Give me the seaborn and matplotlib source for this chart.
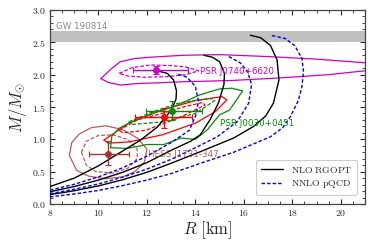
import numpy as np
import pandas as pd
import matplotlib
matplotlib.use("Agg")
import matplotlib.pyplot as plt
from matplotlib.ticker import MultipleLocator
from matplotlib.lines import Line2D
import seaborn as sns

sns.set_style("ticks")
plt.rcParams["mathtext.fontset"] = "cm"
plt.rcParams["font.family"] = ["DejaVu Sans"]

# --- mass-radius curves (R in km, M in Msun) ---
rgopt_1_R = [8.0, 9.0, 10.0, 11.0, 11.74, 12.43, 13.0, 13.2, 13.22, 13.1, 12.84, 12.43]
rgopt_1_M = [0.27, 0.40, 0.59, 0.82, 0.99, 1.19, 1.45, 1.62, 1.75, 1.92, 2.02, 2.06]
rgopt_2_R = [8.0, 9.0, 10.0, 11.0, 12.0, 13.0, 13.8, 14.2, 14.6, 14.95, 15.18, 15.2, 15.0, 14.7, 14.35]
rgopt_2_M = [0.19, 0.27, 0.37, 0.49, 0.64, 0.83, 0.97, 1.07, 1.3, 1.56, 1.85, 2.02, 2.2, 2.27, 2.30]
rgopt_3_R = [8.0, 9.0, 10.0, 11.0, 12.0, 13.0, 14.21, 15.58, 16.4, 16.9, 17.22, 17.45, 17.37, 17.1, 16.7, 16.27]
rgopt_3_M = [0.145, 0.205, 0.28, 0.375, 0.49, 0.63, 0.81, 1.02, 1.2, 1.36, 1.56, 1.92, 2.23, 2.45, 2.57, 2.61]

pqcd_1_R = [8.0, 9.0, 10.0, 11.0, 12.0, 13.0, 13.75, 14.05, 14.12, 14.0, 13.65, 13.2]
pqcd_1_M = [0.215, 0.305, 0.42, 0.56, 0.74, 0.95, 1.14, 1.4, 1.6, 1.82, 1.96, 2.02]
pqcd_2_R = [8.0, 9.0, 10.0, 11.0, 12.0, 13.0, 14.0, 14.9, 15.72, 16.2, 16.32, 16.15, 15.86, 15.38]
pqcd_2_M = [0.16, 0.228, 0.31, 0.415, 0.54, 0.69, 0.87, 1.04, 1.27, 1.56, 1.85, 2.05, 2.18, 2.28]
pqcd_3_R = [8.0, 9.0, 10.0, 11.0, 12.0, 13.0, 14.21, 15.58, 17.1, 17.6, 17.92, 18.25, 18.4, 18.46, 18.4, 18.1, 17.7, 17.1]
pqcd_3_M = [0.11, 0.155, 0.21, 0.285, 0.37, 0.47, 0.63, 0.80, 1.04, 1.18, 1.35, 1.6, 1.82, 2.05, 2.25, 2.45, 2.56, 2.61]

# --- observational contours ---
j0740_out_R = [10.1, 10.5, 10.9, 11.5, 12.16, 13.5, 15.0, 17.0, 19.0, 21.5, 21.5, 19.5, 17.5, 15.5, 13.5, 12.84, 11.5, 10.9, 10.4, 10.1]
j0740_out_M = [1.94, 2.08, 2.2, 2.25, 2.27, 2.3, 2.31, 2.28, 2.24, 2.17, 2.08, 2.0, 1.95, 1.91, 1.89, 1.88, 1.86, 1.84, 1.88, 1.94]
j0740_in_R = [10.85, 11.4, 12.16, 13.0, 13.6, 14.14, 13.6, 12.84, 11.9, 11.2, 10.85]
j0740_in_M = [2.02, 2.11, 2.15, 2.14, 2.12, 2.06, 2.0, 1.97, 1.96, 1.98, 2.02]

riley_out_R = [10.23, 11.26, 12.6, 14.0, 15.1, 15.3, 14.83, 14.0, 12.64, 11.26, 10.4, 10.23]
riley_out_M = [0.99, 1.25, 1.45, 1.6, 1.66, 1.61, 1.43, 1.25, 1.07, 0.96, 0.94, 0.99]
riley_in_R = [10.85, 11.6, 12.6, 13.5, 14.3, 14.4, 13.3, 11.95, 11.0, 10.85]
riley_in_M = [1.14, 1.3, 1.4, 1.5, 1.57, 1.53, 1.33, 1.14, 1.1, 1.14]

miller_out_R = [10.5, 10.55, 10.85, 11.3, 12.2, 13.2, 14.2, 15.0, 15.5, 15.95, 15.7, 15.4, 15.0, 14.5, 14.0, 13.4, 12.7, 12.0, 11.2, 10.5]
miller_out_M = [0.87, 1.05, 1.17, 1.26, 1.4, 1.52, 1.69, 1.78, 1.79, 1.75, 1.61, 1.45, 1.38, 1.15, 1.0, 1.02, 0.92, 0.92, 0.86, 0.87]
miller_in_R = [11.25, 12.2, 13.3, 14.0, 14.7, 14.8, 14.0, 12.64, 11.4, 11.25]
miller_in_M = [1.27, 1.42, 1.56, 1.6, 1.63, 1.6, 1.40, 1.27, 1.23, 1.27]

hess_out_R = [8.8, 8.9, 9.2, 9.7, 10.3, 11.0, 11.6, 12.0, 11.9, 11.5, 11.0, 10.3, 9.6, 9.1, 8.8]
hess_out_M = [0.75, 0.95, 1.08, 1.18, 1.21, 1.15, 1.02, 0.85, 0.65, 0.5, 0.42, 0.39, 0.43, 0.52, 0.75]
hess_in_R = [9.3, 9.5, 10.0, 10.6, 11.2, 11.6, 11.6, 11.2, 10.6, 9.9, 9.5, 9.3]
hess_in_M = [0.8, 0.97, 1.06, 1.07, 1.0, 0.85, 0.7, 0.55, 0.48, 0.5, 0.6, 0.8]

# --- measurements: R, -dR, +dR, M, -dM, +dM ---
j0740_pt = [12.39, 0.98, 1.30, 2.072, 0.066, 0.067]
riley_pt = [12.71, 1.19, 1.14, 1.34, 0.16, 0.15]
miller_pt = [13.02, 1.06, 1.24, 1.44, 0.14, 0.15]
hess_pt = [10.4, 0.78, 0.86, 0.77, 0.17, 0.20]

gw_band = [2.50, 2.67]

MAGENTA = "#cc00cc"
GREEN = "#0a8a0a"
RED = "#ff0000"
BROWN = "#a83232"

curves = pd.concat([
    pd.DataFrame({"R": r, "M": m, "model": mod, "curve": name})
    for r, m, mod, name in [
        (rgopt_1_R, rgopt_1_M, "NLO RGOPT", "r1"),
        (rgopt_2_R, rgopt_2_M, "NLO RGOPT", "r2"),
        (rgopt_3_R, rgopt_3_M, "NLO RGOPT", "r3"),
        (pqcd_1_R, pqcd_1_M, "NNLO pQCD", "p1"),
        (pqcd_2_R, pqcd_2_M, "NNLO pQCD", "p2"),
        (pqcd_3_R, pqcd_3_M, "NNLO pQCD", "p3"),
    ]
])

fig = plt.figure(figsize=(3.74, 2.49), dpi=100)
ax = fig.add_axes([50 / 374, 1 - 204 / 249, 315 / 374, 194 / 249])

ax.axhspan(gw_band[0], gw_band[1], color="#c0c0c0", lw=0, zorder=1)
ax.text(8.25, 2.75, "GW 190814", color="#8a8a8a", fontsize=6.3, va="center")

def contour(r, m, color, ls, alpha=1.0):
    sns.lineplot(x=r, y=m, ax=ax, sort=False, estimator=None, color=color,
                 linestyle=ls, lw=0.9, alpha=alpha, legend=False, zorder=2)

contour(j0740_out_R, j0740_out_M, MAGENTA, "-")
contour(j0740_in_R, j0740_in_M, MAGENTA, (0, (3, 1.5)))
contour(riley_out_R, riley_out_M, RED, "-")
contour(riley_in_R, riley_in_M, RED, (0, (3, 1.5)))
contour(miller_out_R, miller_out_M, GREEN, "-")
contour(miller_in_R, miller_in_M, GREEN, (0, (3, 1.5)))
contour(hess_out_R, hess_out_M, BROWN, "-", 0.8)
contour(hess_in_R, hess_in_M, BROWN, (0, (3, 1.5)), 0.8)

sns.lineplot(data=curves, x="R", y="M", hue="model", style="model", units="curve",
             estimator=None, sort=False, ax=ax, lw=1.0,
             palette={"NLO RGOPT": "black", "NNLO pQCD": "#0000ff"},
             dashes={"NLO RGOPT": "", "NNLO pQCD": (2.5, 1.5)},
             legend=False, zorder=3)

for pt, c in [(j0740_pt, MAGENTA), (riley_pt, RED), (miller_pt, GREEN), (hess_pt, BROWN)]:
    ax.errorbar(pt[0], pt[3], xerr=[[pt[1]], [pt[2]]], yerr=[[pt[4]], [pt[5]]],
                fmt="o", color=c, ms=4, lw=1.0, capsize=2, capthick=0.8, zorder=4)

ax.text(14.2, 2.05, "PSR J0740+6620", color=MAGENTA, fontsize=6.3, va="center")
ax.text(15.0, 1.25, "PSR J0030+0451", color=GREEN, fontsize=6.3, va="center")
ax.text(12.05, 0.76, "HESS J1731-347", color=BROWN, alpha=0.8, fontsize=6.3, va="center")

handles = [Line2D([], [], color="black", lw=1.0),
           Line2D([], [], color="#0000ff", lw=1.0, ls=(0, (2.5, 1.5)))]
leg = ax.legend(handles, [r"$\mathrm{NLO\ RGOPT}$", r"$\mathrm{NNLO\ pQCD}$"],
                loc="lower right", fontsize=7, frameon=True, framealpha=1,
                handlelength=2.3, borderpad=0.5, labelspacing=0.4,
                bbox_to_anchor=(0.99, 0.02))
leg.get_frame().set_edgecolor("#cccccc")
leg.get_frame().set_linewidth(0.8)

ax.set_xlim(8, 21)
ax.set_ylim(0, 3)
ax.xaxis.set_major_locator(MultipleLocator(2))
ax.xaxis.set_minor_locator(MultipleLocator(0.5))
ax.yaxis.set_major_locator(MultipleLocator(0.5))
ax.yaxis.set_minor_locator(MultipleLocator(0.1))
ax.set_xticks(np.arange(8, 21, 2))
ax.set_xticklabels([f"${v}$" for v in range(8, 21, 2)])
ax.set_yticks(np.arange(0, 3.01, 0.5))
ax.set_yticklabels([f"${v:.1f}$" for v in np.arange(0, 3.01, 0.5)])
ax.tick_params(which="both", direction="in", top=True, right=True, labelsize=7, pad=3)
ax.tick_params(which="major", length=3.5, width=0.8)
ax.tick_params(which="minor", length=2, width=0.6)
for s in ax.spines.values():
    s.set_linewidth(0.9)
    s.set_color("#444444")

ax.set_xlabel(r"$R\ [\mathrm{km}]$", fontsize=12, labelpad=1)
ax.set_ylabel(r"$M/M_{\odot}$", fontsize=12, labelpad=2)

fig.savefig("out.png", dpi=100)
